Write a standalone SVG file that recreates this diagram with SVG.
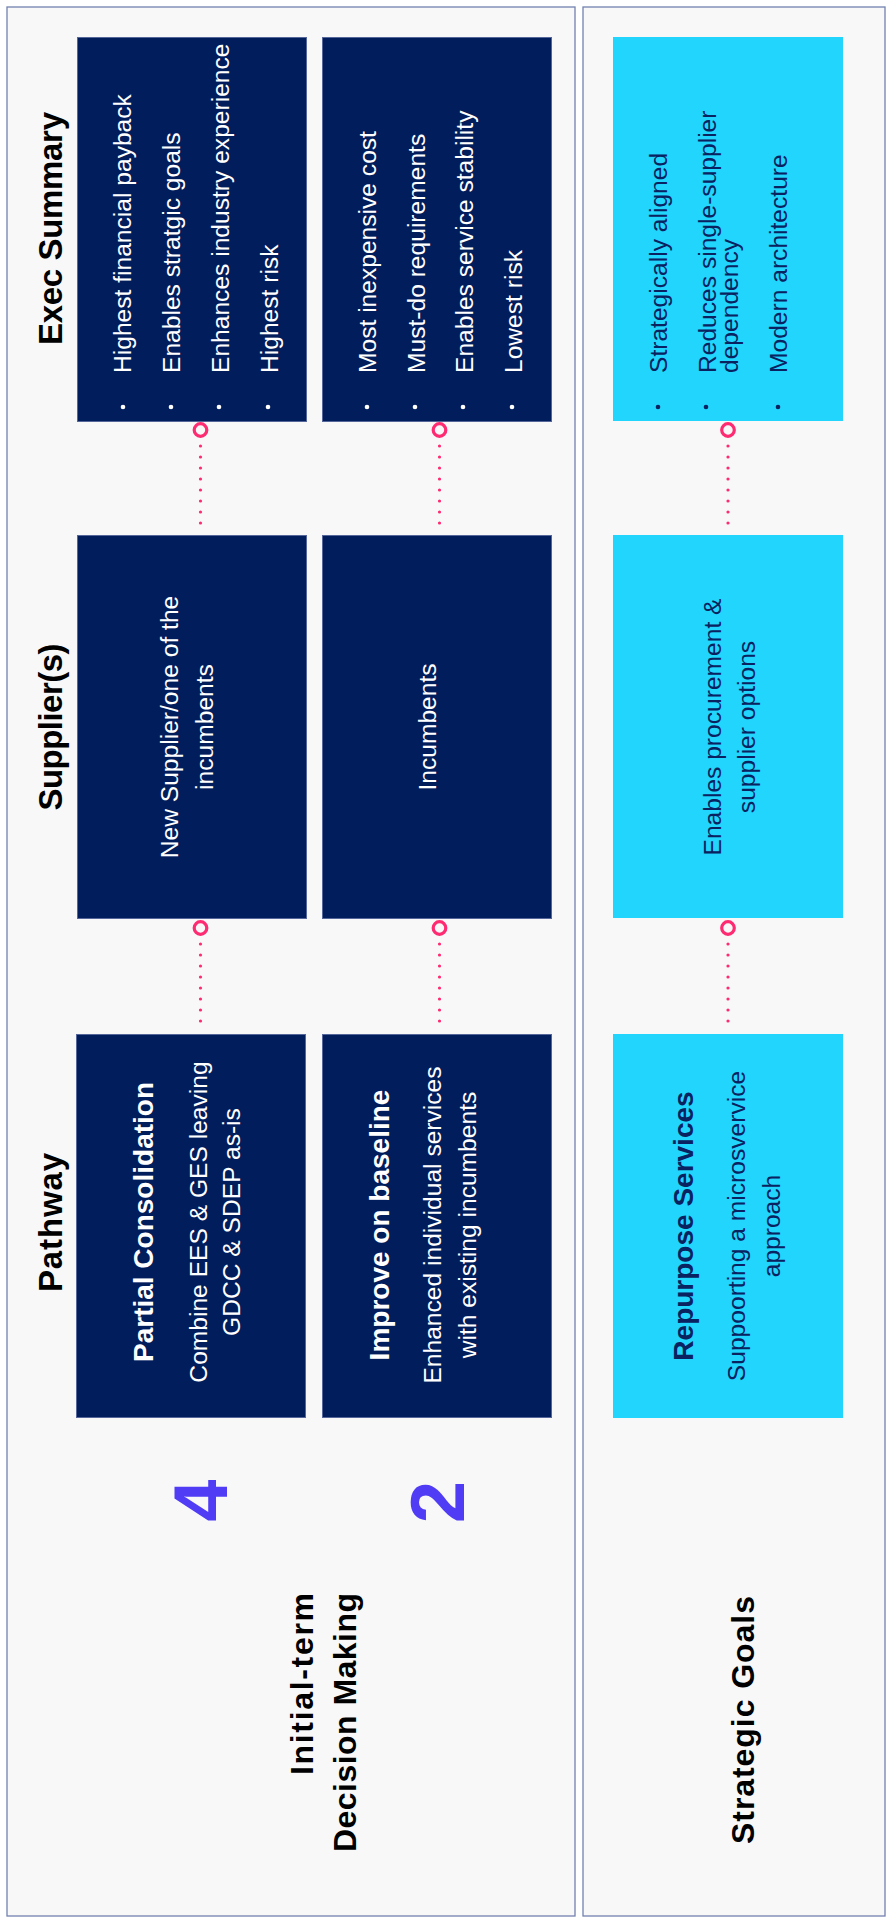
<svg xmlns="http://www.w3.org/2000/svg" width="886" height="1923" viewBox="0 0 886 1923">
<defs>
<style>
.panel{fill:#f8f8f8;stroke:#7282b0;stroke-width:1.3}
.navy{fill:#021d5c;stroke:#55679a;stroke-width:1}
.cyan{fill:#21d5fd}
.hdr{font-family:"Liberation Sans",Arial,sans-serif;font-weight:bold;font-size:33px;fill:#000}
.big{font-family:"Liberation Sans",Arial,sans-serif;font-weight:bold;font-size:32px;fill:#000}
.num{font-family:"Liberation Sans",Arial,sans-serif;font-weight:bold;font-size:76px;fill:#503cf5}
.tw{font-family:"Liberation Sans",Arial,sans-serif;font-size:24.6px;fill:#ffffff}
.tn{font-family:"Liberation Sans",Arial,sans-serif;font-size:24.6px;fill:#0a2260}
.ttw{font-family:"Liberation Sans",Arial,sans-serif;font-weight:bold;font-size:28px;fill:#ffffff}
.ttn{font-family:"Liberation Sans",Arial,sans-serif;font-weight:bold;font-size:28px;fill:#0a2260}
.bw{fill:#ffffff}
.bn{fill:#0a2260}
.dots{stroke:#fe2a72;stroke-width:3.2;stroke-linecap:round;stroke-dasharray:0 11;fill:none}
.ring{fill:none;stroke:#fe2a72;stroke-width:3.2}
</style>
</defs>
<rect width="886" height="1923" fill="#ffffff"/>
<g id="panel-decision"><rect class="panel" x="7" y="7" width="568" height="1909"/></g>
<g id="panel-strategic"><rect class="panel" x="583" y="7" width="302" height="1909"/></g>

<g id="header-exec"><text class="hdr" x="62" y="228.5" text-anchor="middle" transform="rotate(-90 62 228.5)" textLength="233">Exec Summary</text></g>
<g id="header-supplier"><text class="hdr" x="62" y="727" text-anchor="middle" transform="rotate(-90 62 727)" textLength="167">Supplier(s)</text></g>
<g id="header-pathway"><text class="hdr" x="62" y="1222.5" text-anchor="middle" transform="rotate(-90 62 1222.5)" textLength="139">Pathway</text></g>

<g id="connectors">
<circle class="ring" cx="200.5" cy="430" r="6.3"/>
<line class="dots" x1="200.5" y1="446" x2="200.5" y2="534"/>
<circle class="ring" cx="439.5" cy="430" r="6.3"/>
<line class="dots" x1="439.5" y1="446" x2="439.5" y2="534"/>
<circle class="ring" cx="728" cy="430" r="6.3"/>
<line class="dots" x1="728" y1="446" x2="728" y2="534"/>
<circle class="ring" cx="200.5" cy="928" r="6.3"/>
<line class="dots" x1="200.5" y1="944" x2="200.5" y2="1032"/>
<circle class="ring" cx="439.5" cy="928" r="6.3"/>
<line class="dots" x1="439.5" y1="944" x2="439.5" y2="1032"/>
<circle class="ring" cx="728" cy="928" r="6.3"/>
<line class="dots" x1="728" y1="944" x2="728" y2="1032"/>
</g>

<g id="exec-4">
<rect class="navy" x="77.5" y="37.5" width="229" height="384"/>
<circle class="bw" cx="123" cy="407" r="2.3"/>
<circle class="bw" cx="171" cy="407" r="2.3"/>
<circle class="bw" cx="219" cy="407" r="2.3"/>
<circle class="bw" cx="268" cy="407" r="2.3"/>
<text class="tw" x="131" y="373" transform="rotate(-90 131 373)">Highest financial payback</text>
<text class="tw" x="180" y="373" transform="rotate(-90 180 373)">Enables stratgic goals</text>
<text class="tw" x="229" y="373" transform="rotate(-90 229 373)">Enhances industry experience</text>
<text class="tw" x="278" y="373" transform="rotate(-90 278 373)">Highest risk</text>
</g>

<g id="exec-2">
<rect class="navy" x="322.5" y="37.5" width="229" height="384"/>
<circle class="bw" cx="367" cy="407" r="2.3"/>
<circle class="bw" cx="415" cy="407" r="2.3"/>
<circle class="bw" cx="463" cy="407" r="2.3"/>
<circle class="bw" cx="512" cy="407" r="2.3"/>
<text class="tw" x="376" y="373" transform="rotate(-90 376 373)">Most inexpensive cost</text>
<text class="tw" x="425" y="373" transform="rotate(-90 425 373)">Must-do requirements</text>
<text class="tw" x="473" y="373" transform="rotate(-90 473 373)">Enables service stability</text>
<text class="tw" x="522" y="373" transform="rotate(-90 522 373)">Lowest risk</text>
</g>

<g id="exec-strategic">
<rect class="cyan" x="613" y="37" width="230" height="384"/>
<circle class="bn" cx="658" cy="407" r="2.3"/>
<circle class="bn" cx="706" cy="407" r="2.3"/>
<circle class="bn" cx="778" cy="407" r="2.3"/>
<text class="tn" x="667" y="373" transform="rotate(-90 667 373)">Strategically aligned</text>
<text class="tn" x="716" y="373" transform="rotate(-90 716 373)">Reduces single-supplier</text>
<text class="tn" x="738" y="373" transform="rotate(-90 738 373)">dependency</text>
<text class="tn" x="787" y="373" transform="rotate(-90 787 373)">Modern architecture</text>
</g>

<g id="supplier-4">
<rect class="navy" x="77.5" y="535.5" width="229" height="383"/>
<text class="tw" x="178" y="727" text-anchor="middle" transform="rotate(-90 178 727)">New Supplier/one of the</text>
<text class="tw" x="213" y="727" text-anchor="middle" transform="rotate(-90 213 727)">incumbents</text>
</g>

<g id="supplier-2">
<rect class="navy" x="322.5" y="535.5" width="229" height="383"/>
<text class="tw" x="436" y="727" text-anchor="middle" transform="rotate(-90 436 727)">Incumbents</text>
</g>

<g id="supplier-strategic">
<rect class="cyan" x="613" y="535" width="230" height="383"/>
<text class="tn" x="721" y="727" text-anchor="middle" transform="rotate(-90 721 727)">Enables procurement &amp;</text>
<text class="tn" x="755" y="727" text-anchor="middle" transform="rotate(-90 755 727)">supplier options</text>
</g>

<g id="pathway-4">
<rect class="navy" x="76.5" y="1034.5" width="229" height="383"/>
<text class="ttw" x="153" y="1222" text-anchor="middle" transform="rotate(-90 153 1222)">Partial Consolidation</text>
<text class="tw" x="207" y="1222" text-anchor="middle" transform="rotate(-90 207 1222)">Combine EES &amp; GES leaving</text>
<text class="tw" x="240" y="1222" text-anchor="middle" transform="rotate(-90 240 1222)">GDCC &amp; SDEP as-is</text>
</g>

<g id="pathway-2">
<rect class="navy" x="322.5" y="1034.5" width="229" height="383"/>
<text class="ttw" x="389" y="1225" text-anchor="middle" transform="rotate(-90 389 1225)">Improve on baseline</text>
<text class="tw" x="441" y="1225" text-anchor="middle" transform="rotate(-90 441 1225)">Enhanced individual services</text>
<text class="tw" x="476" y="1225" text-anchor="middle" transform="rotate(-90 476 1225)">with existing incumbents</text>
</g>

<g id="pathway-strategic">
<rect class="cyan" x="613" y="1034" width="230" height="384"/>
<text class="ttn" x="693" y="1226" text-anchor="middle" transform="rotate(-90 693 1226)">Repurpose Services</text>
<text class="tn" x="745" y="1226" text-anchor="middle" transform="rotate(-90 745 1226)">Suppoorting a microsvervice</text>
<text class="tn" x="780" y="1226" text-anchor="middle" transform="rotate(-90 780 1226)">approach</text>
</g>

<g id="rank-4"><text class="num" x="227" y="1500.5" text-anchor="middle" transform="rotate(-90 227 1500.5)">4</text></g>
<g id="rank-2"><text class="num" x="464" y="1502" text-anchor="middle" transform="rotate(-90 464 1502)">2</text></g>

<g id="label-decision">
<text class="big" x="313" y="1593" text-anchor="end" transform="rotate(-90 313 1593)" textLength="182">Initial-term</text>
<text class="big" x="356" y="1593" text-anchor="end" transform="rotate(-90 356 1593)" textLength="259">Decision Making</text>
</g>
<g id="label-strategic"><text class="big" x="754" y="1720" text-anchor="middle" transform="rotate(-90 754 1720)" textLength="248">Strategic Goals</text></g>
</svg>
